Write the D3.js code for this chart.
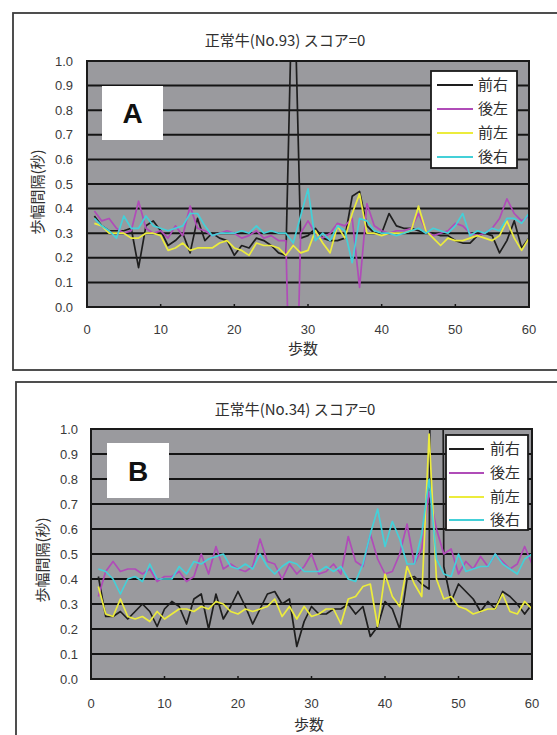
<!DOCTYPE html>
<html><head><meta charset="utf-8">
<script src="https://cdn.jsdelivr.net/npm/d3@7"></script>
<style>body{margin:0;background:#fff}svg{display:block}</style>
</head><body>
<svg id="c" width="557" height="735"></svg>
<script>
const steps = [1,2,3,4,5,6,7,8,9,10,11,12,13,14,15,16,17,18,19,20,21,22,23,24,25,26,27,28,29,30,31,32,33,34,35,36,37,38,39,40,41,42,43,44,45,46,47,48,49,50,51,52,53,54,55,56,57,58,59,60];
const seriesNames = ["前右","後左","前左","後右"];
const seriesColors = ["#1e1e1e","#b04cb8","#ecec3c","#44d0d8"];
const xTicks = [0,10,20,30,40,50,60];
const yTicks = [0,0.1,0.2,0.3,0.4,0.5,0.6,0.7,0.8,0.9,1.0];

// Chart A : 正常牛(No.93)
const titleA = "正常牛(No.93) スコア=0";
const aFrontRight = [0.37,0.33,0.31,0.31,0.31,0.32,0.16,0.33,0.35,0.31,0.25,0.27,0.30,0.22,0.36,0.27,0.30,0.28,0.27,0.21,0.25,0.24,0.28,0.27,0.25,0.22,0.21,1.50,0.28,0.29,0.32,0.28,0.27,0.27,0.28,0.45,0.47,0.33,0.30,0.30,0.38,0.33,0.32,0.32,0.31,0.30,0.30,0.29,0.29,0.27,0.26,0.26,0.29,0.30,0.29,0.22,0.27,0.35,0.24,0.28];
const aRearLeft = [0.39,0.35,0.36,0.32,0.30,0.31,0.43,0.32,0.30,0.31,0.28,0.33,0.29,0.41,0.32,0.31,0.29,0.30,0.31,0.30,0.28,0.29,0.31,0.28,0.29,0.27,0.27,-1.0,0.30,0.35,0.30,0.28,0.30,0.34,0.33,0.36,0.08,0.42,0.33,0.31,0.30,0.31,0.31,0.32,0.38,0.31,0.29,0.30,0.31,0.34,0.33,0.30,0.29,0.30,0.32,0.36,0.44,0.38,0.35,0.37];
const aFrontLeft = [0.34,0.33,0.30,0.30,0.30,0.28,0.28,0.30,0.30,0.29,0.23,0.24,0.26,0.23,0.24,0.24,0.24,0.26,0.27,0.24,0.23,0.21,0.26,0.25,0.25,0.24,0.21,0.25,0.22,0.23,0.31,0.26,0.22,0.33,0.28,0.38,0.46,0.30,0.30,0.29,0.30,0.30,0.30,0.31,0.41,0.31,0.28,0.25,0.28,0.27,0.27,0.28,0.29,0.28,0.27,0.29,0.35,0.28,0.23,0.28];
const aRearRight = [0.36,0.33,0.31,0.28,0.37,0.32,0.32,0.37,0.33,0.32,0.31,0.32,0.33,0.38,0.38,0.33,0.29,0.30,0.30,0.30,0.31,0.30,0.33,0.30,0.31,0.30,0.30,0.26,0.37,0.48,0.27,0.30,0.27,0.33,0.31,0.18,0.36,0.35,0.31,0.30,0.30,0.29,0.30,0.31,0.32,0.30,0.32,0.31,0.30,0.33,0.38,0.29,0.31,0.30,0.32,0.31,0.36,0.36,0.34,0.38];

// Chart B : 正常牛(No.34)
const titleB = "正常牛(No.34) スコア=0";
const bFrontRight = [0.41,0.25,0.25,0.27,0.24,0.27,0.30,0.27,0.21,0.28,0.31,0.29,0.22,0.32,0.34,0.20,0.34,0.24,0.29,0.35,0.29,0.22,0.28,0.34,0.35,0.30,0.32,0.13,0.23,0.29,0.26,0.26,0.28,0.28,0.30,0.26,0.29,0.17,0.21,0.31,0.28,0.20,0.40,0.41,0.38,0.36,7.0,0.45,0.31,0.38,0.35,0.32,0.27,0.31,0.28,0.35,0.33,0.30,0.26,0.30];
const bRearLeft = [0.33,0.43,0.47,0.43,0.44,0.44,0.42,0.44,0.39,0.41,0.41,0.43,0.39,0.41,0.50,0.42,0.53,0.44,0.46,0.44,0.43,0.45,0.56,0.47,0.46,0.40,0.46,0.42,0.45,0.50,0.42,0.43,0.46,0.42,0.57,0.47,0.45,0.58,0.48,0.42,0.43,0.50,0.62,0.46,0.52,0.75,0.60,0.50,0.52,0.42,0.47,0.44,0.49,0.45,0.50,0.47,0.44,0.46,0.53,0.46];
const bFrontLeft = [0.37,0.26,0.25,0.32,0.25,0.24,0.25,0.23,0.27,0.24,0.26,0.28,0.28,0.27,0.29,0.28,0.31,0.30,0.27,0.26,0.28,0.27,0.28,0.29,0.32,0.25,0.29,0.24,0.29,0.25,0.26,0.28,0.28,0.22,0.32,0.33,0.37,0.38,0.21,0.42,0.33,0.29,0.45,0.38,0.33,0.98,0.40,0.32,0.33,0.29,0.28,0.26,0.27,0.28,0.28,0.34,0.27,0.26,0.31,0.28];
const bRearRight = [0.44,0.43,0.40,0.34,0.40,0.41,0.39,0.46,0.40,0.40,0.40,0.45,0.42,0.47,0.46,0.48,0.49,0.50,0.45,0.44,0.46,0.44,0.50,0.45,0.42,0.45,0.47,0.46,0.43,0.43,0.43,0.45,0.43,0.45,0.40,0.39,0.46,0.58,0.68,0.53,0.63,0.56,0.46,0.46,0.58,0.80,0.48,0.42,0.41,0.50,0.43,0.44,0.45,0.45,0.50,0.46,0.44,0.42,0.48,0.50];

const svg = d3.select("#c");
const FONT = "'Noto Sans CJK JP','Noto Sans',sans-serif";
const NUMFONT = "'Liberation Sans',Arial,sans-serif";

function drawChart(cfg, id) {
  const g = svg.append("g");
  g.append("rect").attr("x", cfg.box[0]).attr("y", cfg.box[1]).attr("width", cfg.box[2]).attr("height", cfg.box[3])
    .attr("fill", "#fff").attr("stroke", "#3c3c3c").attr("stroke-width", 1.8);

  const x = d3.scaleLinear().domain([0, 60]).range([cfg.plot.l, cfg.plot.r]);
  const y = d3.scaleLinear().domain([0, 1]).range([cfg.plot.b, cfg.plot.t]);

  g.append("rect").attr("x", cfg.plot.l).attr("y", cfg.plot.t)
    .attr("width", cfg.plot.r - cfg.plot.l).attr("height", cfg.plot.b - cfg.plot.t)
    .attr("fill", "#9a9a9e");

  g.append("g").selectAll("line").data(yTicks.filter(v => v > 0 && v < 1)).join("line")
    .attr("x1", cfg.plot.l).attr("x2", cfg.plot.r)
    .attr("y1", d => y(d)).attr("y2", d => y(d))
    .attr("stroke", "#141414").attr("stroke-width", 2);

  g.append("g").selectAll("line").data(xTicks.filter(v => v > 0 && v < 60)).join("line")
    .attr("x1", d => x(d)).attr("x2", d => x(d))
    .attr("y1", cfg.plot.b).attr("y2", cfg.plot.b - 3)
    .attr("stroke", "#161616").attr("stroke-width", 1.5);

  const clipId = "clip" + id;
  svg.append("clipPath").attr("id", clipId).append("rect")
    .attr("x", cfg.plot.l).attr("y", cfg.plot.t)
    .attr("width", cfg.plot.r - cfg.plot.l).attr("height", cfg.plot.b - cfg.plot.t);
  const line = d3.line().x((d, i) => x(steps[i])).y(d => y(d));
  const lg = g.append("g").attr("clip-path", `url(#${clipId})`);
  cfg.series.forEach((s, i) => {
    lg.append("path").attr("d", line(s)).attr("fill", "none")
      .attr("stroke", seriesColors[i]).attr("stroke-width", 1.7).attr("stroke-linejoin", "round");
  });

  g.append("rect").attr("x", cfg.plot.l).attr("y", cfg.plot.t)
    .attr("width", cfg.plot.r - cfg.plot.l).attr("height", cfg.plot.b - cfg.plot.t)
    .attr("fill", "none").attr("stroke", "#1a1a1a").attr("stroke-width", 2);

  g.append("g").selectAll("text").data(yTicks).join("text")
    .attr("x", cfg.yLabelX).attr("y", d => y(d)).attr("dy", "0.35em")
    .attr("text-anchor", "end").attr("font-family", NUMFONT).attr("font-size", 13)
    .attr("fill", "#3a3a3a").text(d => d.toFixed(1));
  g.append("g").selectAll("text").data(xTicks).join("text")
    .attr("x", d => x(d)).attr("y", cfg.xLabelY).attr("dy", "0.35em")
    .attr("text-anchor", "middle").attr("font-family", NUMFONT).attr("font-size", 13)
    .attr("fill", "#3a3a3a").text(d => d);

  g.append("text").attr("x", cfg.title[0]).attr("y", cfg.title[1]).attr("dy", "0.35em")
    .attr("text-anchor", "middle").attr("font-family", FONT).attr("font-size", 15)
    .attr("fill", "#303030").text(cfg.titleText);
  g.append("text").attr("x", cfg.xTitle[0]).attr("y", cfg.xTitle[1]).attr("dy", "0.35em")
    .attr("text-anchor", "middle").attr("font-family", FONT).attr("font-size", 15)
    .attr("fill", "#303030").text("歩数");
  g.append("text").attr("transform", `translate(${cfg.yTitle[0]},${cfg.yTitle[1]}) rotate(-90)`)
    .attr("dy", "0.35em").attr("text-anchor", "middle").attr("font-family", FONT).attr("font-size", 15)
    .attr("fill", "#303030").text("歩幅間隔(秒)");

  g.append("rect").attr("x", cfg.panel[0]).attr("y", cfg.panel[1]).attr("width", cfg.panel[2]).attr("height", cfg.panel[3])
    .attr("fill", "#fff");
  g.append("text").attr("x", cfg.panel[0] + cfg.panel[2] / 2).attr("y", cfg.panel[1] + cfg.panel[3] / 2)
    .attr("dy", "0.36em").attr("text-anchor", "middle").attr("font-family", NUMFONT)
    .attr("font-size", 28).attr("font-weight", "bold").attr("fill", "#111").text(cfg.panelText);

  const L = cfg.legend;
  g.append("rect").attr("x", L.x).attr("y", L.y).attr("width", L.w).attr("height", L.h)
    .attr("fill", "#fff").attr("stroke", "#1a1a1a").attr("stroke-width", 1.8);
  seriesNames.forEach((n, i) => {
    g.append("line").attr("x1", L.lx1).attr("x2", L.lx2).attr("y1", L.ys[i]).attr("y2", L.ys[i])
      .attr("stroke", seriesColors[i]).attr("stroke-width", 2);
    g.append("text").attr("x", L.tx).attr("y", L.ys[i]).attr("dy", "0.35em")
      .attr("font-family", FONT).attr("font-size", 15).attr("fill", "#303030").text(n);
  });
}

drawChart({
  box: [13, 13, 560, 357],
  plot: {l: 87, r: 529, t: 61, b: 307},
  series: [aFrontRight, aRearLeft, aFrontLeft, aRearRight],
  yLabelX: 73, xLabelY: 329,
  title: [285, 41], titleText: titleA,
  xTitle: [303, 349], yTitle: [38, 192],
  panel: [102, 86, 61, 54], panelText: "A",
  legend: {x: 431, y: 71, w: 86, h: 97, lx1: 437, lx2: 473, tx: 478, ys: [85, 109, 133, 157]}
}, "A");

drawChart({
  box: [16, 382, 560, 370],
  plot: {l: 91, r: 532, t: 429, b: 679},
  series: [bFrontRight, bRearLeft, bFrontLeft, bRearRight],
  yLabelX: 78, xLabelY: 703,
  title: [295, 410], titleText: titleB,
  xTitle: [309, 725], yTitle: [43, 560],
  panel: [107, 443, 62, 55], panelText: "B",
  legend: {x: 446, y: 435, w: 82, h: 95, lx1: 449, lx2: 484, tx: 490, ys: [449, 473, 497, 520]}
}, "B");
</script>
</body></html>
